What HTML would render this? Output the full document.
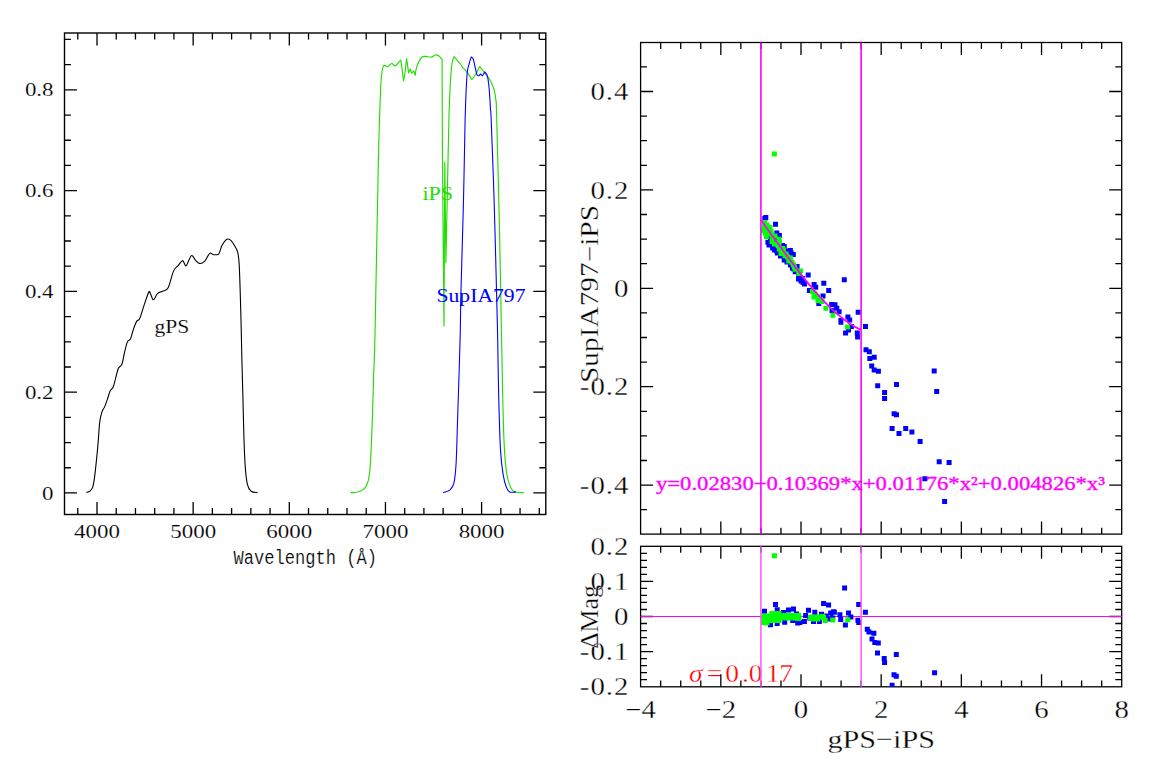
<!DOCTYPE html>
<html><head><meta charset="utf-8"><style>
html,body{margin:0;padding:0;background:#fff;width:1154px;height:766px;overflow:hidden}
svg{display:block}
</style></head><body>
<svg width="1154" height="766" viewBox="0 0 1154 766">
<rect width="1154" height="766" fill="#fff"/>
<rect x="64.5" y="33.0" width="481.30" height="481.50" fill="none" stroke="#000" stroke-width="1.4"/>
<path d="M77.77 514.5v-6.4M77.77 33.0v6.4M97.00 514.5v-12.5M97.00 33.0v12.5M116.23 514.5v-6.4M116.23 33.0v6.4M135.46 514.5v-6.4M135.46 33.0v6.4M154.69 514.5v-6.4M154.69 33.0v6.4M173.92 514.5v-6.4M173.92 33.0v6.4M193.15 514.5v-12.5M193.15 33.0v12.5M212.38 514.5v-6.4M212.38 33.0v6.4M231.61 514.5v-6.4M231.61 33.0v6.4M250.84 514.5v-6.4M250.84 33.0v6.4M270.07 514.5v-6.4M270.07 33.0v6.4M289.30 514.5v-12.5M289.30 33.0v12.5M308.53 514.5v-6.4M308.53 33.0v6.4M327.76 514.5v-6.4M327.76 33.0v6.4M346.99 514.5v-6.4M346.99 33.0v6.4M366.22 514.5v-6.4M366.22 33.0v6.4M385.45 514.5v-12.5M385.45 33.0v12.5M404.68 514.5v-6.4M404.68 33.0v6.4M423.91 514.5v-6.4M423.91 33.0v6.4M443.14 514.5v-6.4M443.14 33.0v6.4M462.37 514.5v-6.4M462.37 33.0v6.4M481.60 514.5v-12.5M481.60 33.0v12.5M500.83 514.5v-6.4M500.83 33.0v6.4M520.06 514.5v-6.4M520.06 33.0v6.4M539.29 514.5v-6.4M539.29 33.0v6.4M64.5 492.96h12.5M545.8 492.96h-12.5M64.5 467.76h6.4M545.8 467.76h-6.4M64.5 442.57h6.4M545.8 442.57h-6.4M64.5 417.38h6.4M545.8 417.38h-6.4M64.5 392.18h12.5M545.8 392.18h-12.5M64.5 366.99h6.4M545.8 366.99h-6.4M64.5 341.79h6.4M545.8 341.79h-6.4M64.5 316.59h6.4M545.8 316.59h-6.4M64.5 291.40h12.5M545.8 291.40h-12.5M64.5 266.20h6.4M545.8 266.20h-6.4M64.5 241.01h6.4M545.8 241.01h-6.4M64.5 215.81h6.4M545.8 215.81h-6.4M64.5 190.62h12.5M545.8 190.62h-12.5M64.5 165.43h6.4M545.8 165.43h-6.4M64.5 140.23h6.4M545.8 140.23h-6.4M64.5 115.04h6.4M545.8 115.04h-6.4M64.5 89.84h12.5M545.8 89.84h-12.5M64.5 64.64h6.4M545.8 64.64h-6.4M64.5 39.45h6.4M545.8 39.45h-6.4" stroke="#000" stroke-width="1.3" fill="none"/>
<path d="M86.30 492.40 C86.92 492.18 88.92 492.02 90.00 491.10 C91.08 490.18 92.03 489.27 92.80 486.90 C93.57 484.53 93.93 481.92 94.60 476.90 C95.27 471.88 96.18 462.88 96.80 456.80 C97.42 450.72 97.82 446.18 98.30 440.40 C98.78 434.62 99.10 426.82 99.70 422.10 C100.30 417.38 101.07 414.68 101.90 412.10 C102.73 409.52 103.78 408.73 104.70 406.60 C105.62 404.47 106.50 401.90 107.40 399.30 C108.30 396.70 109.13 393.05 110.10 391.00 C111.07 388.95 112.28 389.12 113.20 387.00 C114.12 384.88 114.73 381.43 115.60 378.30 C116.47 375.17 117.35 370.53 118.40 368.20 C119.45 365.87 120.88 366.92 121.90 364.30 C122.92 361.68 123.58 356.23 124.50 352.50 C125.42 348.77 126.40 344.18 127.40 341.90 C128.40 339.62 129.52 340.85 130.50 338.80 C131.48 336.75 132.28 332.50 133.30 329.60 C134.32 326.70 135.53 323.23 136.60 321.40 C137.67 319.57 138.43 321.35 139.70 318.60 C140.97 315.85 142.68 309.32 144.20 304.90 C145.72 300.48 147.73 293.92 148.80 292.10 C149.87 290.28 149.83 292.72 150.60 294.00 C151.37 295.28 152.27 299.87 153.40 299.80 C154.53 299.73 155.88 295.03 157.40 293.60 C158.92 292.17 160.73 292.12 162.50 291.20 C164.27 290.28 166.17 291.45 168.00 288.10 C169.83 284.75 171.82 274.85 173.50 271.10 C175.18 267.35 176.63 267.33 178.10 265.60 C179.57 263.87 181.30 261.15 182.30 260.70 C183.30 260.25 183.43 262.08 184.10 262.90 C184.77 263.72 185.08 266.82 186.30 265.60 C187.52 264.38 189.88 256.50 191.40 255.60 C192.92 254.70 194.07 258.90 195.40 260.20 C196.73 261.50 197.87 263.20 199.40 263.40 C200.93 263.60 202.88 263.07 204.60 261.40 C206.32 259.73 208.18 254.52 209.70 253.40 C211.22 252.28 212.18 254.63 213.70 254.70 C215.22 254.77 217.43 255.33 218.80 253.80 C220.17 252.27 220.62 247.88 221.90 245.50 C223.18 243.12 225.07 240.40 226.50 239.50 C227.93 238.60 228.98 238.78 230.50 240.10 C232.02 241.42 234.38 245.28 235.60 247.40 C236.82 249.52 237.18 249.60 237.80 252.80 C238.42 256.00 238.80 256.68 239.30 266.60 C239.80 276.52 240.37 296.73 240.80 312.30 C241.23 327.87 241.55 345.95 241.90 360.00 C242.25 374.05 242.58 384.40 242.90 396.60 C243.22 408.80 243.42 421.62 243.80 433.20 C244.18 444.78 244.60 457.57 245.20 466.10 C245.80 474.63 246.42 480.20 247.40 484.40 C248.38 488.60 249.42 489.93 251.10 491.30 C252.78 492.67 256.43 492.38 257.50 492.60" fill="none" stroke="#000" stroke-width="1.1" stroke-linejoin="round"/>
<path d="M350.40 492.70 C351.62 492.58 355.37 492.67 357.70 492.00 C360.03 491.33 362.65 490.55 364.40 488.70 C366.15 486.85 367.20 485.15 368.20 480.90 C369.20 476.65 369.73 472.82 370.40 463.20 C371.07 453.58 371.65 438.00 372.20 423.20 C372.75 408.40 373.22 389.93 373.70 374.40 C374.18 358.87 374.32 365.73 375.10 330.00 C375.88 294.27 377.52 199.20 378.40 160.00 C379.28 120.80 379.88 108.80 380.40 94.80 C380.92 80.80 381.05 80.70 381.50 76.00 C381.95 71.30 382.58 68.37 383.10 66.60 C383.62 64.83 383.82 65.40 384.60 65.40 C385.38 65.40 386.62 66.92 387.80 66.60 C388.98 66.28 390.48 63.62 391.70 63.50 C392.92 63.38 394.00 66.03 395.10 65.90 C396.20 65.77 397.35 63.67 398.30 62.70 C399.25 61.73 400.80 60.10 400.80 60.10 C400.80 60.10 402.40 71.30 402.40 71.30 C402.40 71.30 403.50 81.00 403.50 81.00 C403.50 81.00 405.00 72.90 405.00 72.90 C405.00 72.90 406.60 58.50 406.60 58.50 C406.60 58.50 408.60 72.90 408.60 72.90 C408.60 72.90 410.20 69.00 410.20 69.00 C410.20 69.00 411.80 73.20 411.80 73.20 C411.80 73.20 413.60 71.00 413.60 71.00 C413.60 71.00 415.20 75.30 415.20 75.30 C415.20 75.30 415.75 69.57 416.80 66.60 C417.85 63.63 419.98 59.20 421.50 57.50 C423.02 55.80 424.33 56.45 425.90 56.40 C427.47 56.35 429.28 57.43 430.90 57.20 C432.52 56.97 434.30 55.25 435.60 55.00 C436.90 54.75 437.62 54.93 438.70 55.70 C439.78 56.47 442.10 59.60 442.10 59.60 C442.10 59.60 442.18 115.60 442.50 160.00 C442.82 204.40 444.00 326.00 444.00 326.00 C444.00 326.00 444.80 162.00 444.80 162.00 C444.80 162.00 445.90 263.00 445.90 263.00 C445.90 263.00 447.20 200.00 447.20 200.00 C447.20 200.00 448.45 137.97 448.90 120.00 C449.35 102.03 449.55 99.97 449.90 92.20 C450.25 84.43 450.60 78.45 451.00 73.40 C451.40 68.35 451.78 64.68 452.30 61.90 C452.82 59.12 454.10 56.70 454.10 56.70 C454.10 56.70 456.07 59.10 457.20 60.40 C458.33 61.70 459.93 63.20 460.90 64.50 C461.87 65.80 462.22 67.23 463.00 68.20 C463.78 69.17 464.73 69.35 465.60 70.30 C466.47 71.25 467.15 72.37 468.20 73.90 C469.25 75.43 471.90 79.50 471.90 79.50 C471.90 79.50 474.20 76.65 475.50 74.50 C476.80 72.35 479.70 66.60 479.70 66.60 C479.70 66.60 482.52 70.15 483.90 71.90 C485.28 73.65 486.78 75.37 488.00 77.10 C489.22 78.83 490.15 80.13 491.20 82.30 C492.25 84.47 493.52 87.05 494.30 90.10 C495.08 93.15 495.52 96.45 495.90 100.60 C496.28 104.75 496.00 93.43 496.60 115.00 C497.20 136.57 498.70 194.17 499.50 230.00 C500.30 265.83 500.87 302.23 501.40 330.00 C501.93 357.77 502.23 377.37 502.70 396.60 C503.17 415.83 503.57 432.82 504.20 445.40 C504.83 457.98 505.57 465.43 506.50 472.10 C507.43 478.77 508.52 482.15 509.80 485.40 C511.08 488.65 511.80 490.38 514.20 491.60 C516.60 492.82 522.53 492.52 524.20 492.70" fill="none" stroke="#22dd00" stroke-width="1.15" stroke-linejoin="round"/>
<path d="M443.20 492.70 C444.32 492.22 448.12 491.38 449.90 489.80 C451.68 488.22 452.87 487.63 453.90 483.20 C454.93 478.77 455.48 473.93 456.10 463.20 C456.72 452.47 457.17 431.75 457.60 418.80 C458.03 405.85 458.27 399.47 458.70 385.50 C459.13 371.53 459.82 350.92 460.20 335.00 C460.58 319.08 460.45 312.50 461.00 290.00 C461.55 267.50 462.82 228.33 463.50 200.00 C464.18 171.67 464.63 138.83 465.10 120.00 C465.57 101.17 465.92 95.12 466.30 87.00 C466.68 78.88 466.92 75.22 467.40 71.30 C467.88 67.38 468.55 65.90 469.20 63.50 C469.85 61.10 471.30 56.90 471.30 56.90 C471.30 56.90 472.58 57.38 473.20 59.00 C473.82 60.62 474.35 63.93 475.00 66.60 C475.65 69.27 476.40 73.52 477.10 75.00 C477.80 76.48 479.20 75.50 479.20 75.50 C479.20 75.50 480.70 74.00 480.70 74.00 C480.70 74.00 482.30 76.00 482.30 76.00 C482.30 76.00 484.90 71.90 484.90 71.90 C484.90 71.90 486.80 73.92 487.50 76.60 C488.20 79.28 488.67 83.65 489.10 88.00 C489.53 92.35 489.87 99.03 490.10 102.70 C490.33 106.37 490.32 107.12 490.50 110.00 C490.68 112.88 490.60 105.00 491.20 120.00 C491.80 135.00 493.22 171.67 494.10 200.00 C494.98 228.33 495.90 266.67 496.50 290.00 C497.10 313.33 497.33 322.23 497.70 340.00 C498.07 357.77 498.23 378.28 498.70 396.60 C499.17 414.92 499.77 436.95 500.50 449.90 C501.23 462.85 502.10 468.02 503.10 474.30 C504.10 480.58 505.38 484.65 506.50 487.60 C507.62 490.55 508.22 491.27 509.80 492.00 C511.38 492.73 514.97 492.00 516.00 492.00" fill="none" stroke="#0000ff" stroke-width="1.1" stroke-linejoin="round"/>
<text transform="translate(97.0 538.2) scale(1.19 1)" font-family="Liberation Serif" font-size="19.3" fill="#000" text-anchor="middle" stroke="#fff" stroke-width="0.15" >4000</text>
<text transform="translate(193.2 538.2) scale(1.19 1)" font-family="Liberation Serif" font-size="19.3" fill="#000" text-anchor="middle" stroke="#fff" stroke-width="0.15" >5000</text>
<text transform="translate(289.3 538.2) scale(1.19 1)" font-family="Liberation Serif" font-size="19.3" fill="#000" text-anchor="middle" stroke="#fff" stroke-width="0.15" >6000</text>
<text transform="translate(385.4 538.2) scale(1.19 1)" font-family="Liberation Serif" font-size="19.3" fill="#000" text-anchor="middle" stroke="#fff" stroke-width="0.15" >7000</text>
<text transform="translate(481.6 538.2) scale(1.19 1)" font-family="Liberation Serif" font-size="19.3" fill="#000" text-anchor="middle" stroke="#fff" stroke-width="0.15" >8000</text>
<text transform="translate(53.6 499.6) scale(1.19 1)" font-family="Liberation Serif" font-size="19.3" fill="#000" text-anchor="end" stroke="#fff" stroke-width="0.15" >0</text>
<text transform="translate(53.6 398.8) scale(1.19 1)" font-family="Liberation Serif" font-size="19.3" fill="#000" text-anchor="end" stroke="#fff" stroke-width="0.15" >0.2</text>
<text transform="translate(53.6 298.0) scale(1.19 1)" font-family="Liberation Serif" font-size="19.3" fill="#000" text-anchor="end" stroke="#fff" stroke-width="0.15" >0.4</text>
<text transform="translate(53.6 197.2) scale(1.19 1)" font-family="Liberation Serif" font-size="19.3" fill="#000" text-anchor="end" stroke="#fff" stroke-width="0.15" >0.6</text>
<text transform="translate(53.6 96.4) scale(1.19 1)" font-family="Liberation Serif" font-size="19.3" fill="#000" text-anchor="end" stroke="#fff" stroke-width="0.15" >0.8</text>
<text transform="translate(154.5 332.5) scale(1.15 1)" font-family="Liberation Serif" font-size="18.8" fill="#000" text-anchor="start" stroke="#fff" stroke-width="0.15" >gPS</text>
<text transform="translate(422.5 199.6) scale(1.16 1)" font-family="Liberation Serif" font-size="19" fill="#22e000" text-anchor="start" >iPS</text>
<text transform="translate(436.5 302.3) scale(1.14 1)" font-family="Liberation Serif" font-size="19" fill="#0000ff" text-anchor="start" >SupIA797</text>
<text x="233.5" y="564.3" font-family="Liberation Mono" font-size="19.5" textLength="143.5" lengthAdjust="spacingAndGlyphs" stroke="#fff" stroke-width="0.2">Wavelength (Å)</text>
<text font-family="Liberation Serif" transform="translate(689.0 682.2) scale(1.1 1)" font-size="25" fill="#ff0000" stroke="#fff" stroke-width="0.3" font-style="italic">σ</text>
<text font-family="Liberation Serif" transform="translate(706.8 682.2) scale(1.1 1)" font-size="25" fill="#ff0000" stroke="#fff" stroke-width="0.3">=</text>
<text font-family="Liberation Serif" transform="translate(725.2 682.2) scale(1.1 1)" font-size="25" fill="#ff0000" stroke="#fff" stroke-width="0.3">0</text>
<text font-family="Liberation Serif" transform="translate(741.9 682.2) scale(1.1 1)" font-size="25" fill="#ff0000" stroke="#fff" stroke-width="0.3">.</text>
<text font-family="Liberation Serif" transform="translate(748.7 682.2) scale(1.1 1)" font-size="25" fill="#ff0000" stroke="#fff" stroke-width="0.3">0</text>
<text font-family="Liberation Serif" transform="translate(766.0 682.2) scale(1.1 1)" font-size="25" fill="#ff0000" stroke="#fff" stroke-width="0.3">1</text>
<text font-family="Liberation Serif" transform="translate(779.3 682.2) scale(1.1 1)" font-size="25" fill="#ff0000" stroke="#fff" stroke-width="0.3">7</text>
<rect x="640.6" y="42.5" width="481.10" height="491.60" fill="none" stroke="#000" stroke-width="1.3"/>
<rect x="640.6" y="546.3" width="481.10" height="140.50" fill="none" stroke="#000" stroke-width="1.3"/>
<path d="M660.68 534.1v-6.4M660.68 42.5v6.4M660.68 686.8v-6.4M660.68 546.3v6.4M680.73 534.1v-6.4M680.73 42.5v6.4M680.73 686.8v-6.4M680.73 546.3v6.4M700.77 534.1v-6.4M700.77 42.5v6.4M700.77 686.8v-6.4M700.77 546.3v6.4M720.82 534.1v-12.5M720.82 42.5v12.5M720.82 686.8v-12.5M720.82 546.3v12.5M740.87 534.1v-6.4M740.87 42.5v6.4M740.87 686.8v-6.4M740.87 546.3v6.4M760.91 534.1v-6.4M760.91 42.5v6.4M760.91 686.8v-6.4M760.91 546.3v6.4M780.96 534.1v-6.4M780.96 42.5v6.4M780.96 686.8v-6.4M780.96 546.3v6.4M801.00 534.1v-12.5M801.00 42.5v12.5M801.00 686.8v-12.5M801.00 546.3v12.5M821.04 534.1v-6.4M821.04 42.5v6.4M821.04 686.8v-6.4M821.04 546.3v6.4M841.09 534.1v-6.4M841.09 42.5v6.4M841.09 686.8v-6.4M841.09 546.3v6.4M861.13 534.1v-6.4M861.13 42.5v6.4M861.13 686.8v-6.4M861.13 546.3v6.4M881.18 534.1v-12.5M881.18 42.5v12.5M881.18 686.8v-12.5M881.18 546.3v12.5M901.23 534.1v-6.4M901.23 42.5v6.4M901.23 686.8v-6.4M901.23 546.3v6.4M921.27 534.1v-6.4M921.27 42.5v6.4M921.27 686.8v-6.4M921.27 546.3v6.4M941.32 534.1v-6.4M941.32 42.5v6.4M941.32 686.8v-6.4M941.32 546.3v6.4M961.36 534.1v-12.5M961.36 42.5v12.5M961.36 686.8v-12.5M961.36 546.3v12.5M981.40 534.1v-6.4M981.40 42.5v6.4M981.40 686.8v-6.4M981.40 546.3v6.4M1001.45 534.1v-6.4M1001.45 42.5v6.4M1001.45 686.8v-6.4M1001.45 546.3v6.4M1021.50 534.1v-6.4M1021.50 42.5v6.4M1021.50 686.8v-6.4M1021.50 546.3v6.4M1041.54 534.1v-12.5M1041.54 42.5v12.5M1041.54 686.8v-12.5M1041.54 546.3v12.5M1061.59 534.1v-6.4M1061.59 42.5v6.4M1061.59 686.8v-6.4M1061.59 546.3v6.4M1081.63 534.1v-6.4M1081.63 42.5v6.4M1081.63 686.8v-6.4M1081.63 546.3v6.4M1101.67 534.1v-6.4M1101.67 42.5v6.4M1101.67 686.8v-6.4M1101.67 546.3v6.4M640.6 509.70h6.4M1121.7 509.70h-6.4M640.6 485.10h12.5M1121.7 485.10h-12.5M640.6 460.50h6.4M1121.7 460.50h-6.4M640.6 435.90h6.4M1121.7 435.90h-6.4M640.6 411.30h6.4M1121.7 411.30h-6.4M640.6 386.70h12.5M1121.7 386.70h-12.5M640.6 362.10h6.4M1121.7 362.10h-6.4M640.6 337.50h6.4M1121.7 337.50h-6.4M640.6 312.90h6.4M1121.7 312.90h-6.4M640.6 288.30h12.5M1121.7 288.30h-12.5M640.6 263.70h6.4M1121.7 263.70h-6.4M640.6 239.10h6.4M1121.7 239.10h-6.4M640.6 214.50h6.4M1121.7 214.50h-6.4M640.6 189.90h12.5M1121.7 189.90h-12.5M640.6 165.30h6.4M1121.7 165.30h-6.4M640.6 140.70h6.4M1121.7 140.70h-6.4M640.6 116.10h6.4M1121.7 116.10h-6.4M640.6 91.50h12.5M1121.7 91.50h-12.5M640.6 66.90h6.4M1121.7 66.90h-6.4M640.6 679.68h6.4M1121.7 679.68h-6.4M640.6 672.66h6.4M1121.7 672.66h-6.4M640.6 665.64h6.4M1121.7 665.64h-6.4M640.6 658.62h6.4M1121.7 658.62h-6.4M640.6 651.60h12.5M1121.7 651.60h-12.5M640.6 644.58h6.4M1121.7 644.58h-6.4M640.6 637.56h6.4M1121.7 637.56h-6.4M640.6 630.54h6.4M1121.7 630.54h-6.4M640.6 623.52h6.4M1121.7 623.52h-6.4M640.6 616.50h12.5M1121.7 616.50h-12.5M640.6 609.48h6.4M1121.7 609.48h-6.4M640.6 602.46h6.4M1121.7 602.46h-6.4M640.6 595.44h6.4M1121.7 595.44h-6.4M640.6 588.42h6.4M1121.7 588.42h-6.4M640.6 581.40h12.5M1121.7 581.40h-12.5M640.6 574.38h6.4M1121.7 574.38h-6.4M640.6 567.36h6.4M1121.7 567.36h-6.4M640.6 560.34h6.4M1121.7 560.34h-6.4M640.6 553.32h6.4M1121.7 553.32h-6.4" stroke="#000" stroke-width="1.3" fill="none"/>
<path d="M640.6 616.50H1121.7" stroke="#ff00ff" stroke-width="1.1"/>
<defs><clipPath id="cu"><rect x="640.6" y="42.5" width="481.1" height="491.6"/></clipPath><clipPath id="cd"><rect x="640.6" y="546.3" width="481.1" height="140.5"/></clipPath></defs>
<path d="M762.3 216.0h5v5h-5zM763.3 214.9h5v5h-5zM773.0 221.8h5v5h-5zM774.3 230.4h5v5h-5zM776.9 233.0h5v5h-5zM765.4 239.8h5v5h-5zM770.1 245.5h5v5h-5zM780.0 242.9h5v5h-5zM787.9 248.1h5v5h-5zM774.9 250.5h5v5h-5zM790.8 251.9h5v5h-5zM781.8 257.5h5v5h-5zM789.9 265.6h5v5h-5zM794.6 264.1h5v5h-5zM792.7 269.3h5v5h-5zM796.2 274.1h5v5h-5zM805.7 272.5h5v5h-5zM799.9 276.1h5v5h-5zM770.6 244.3h5v5h-5zM785.8 248.5h5v5h-5zM768.9 240.5h5v5h-5zM774.4 248.7h5v5h-5zM781.7 256.9h5v5h-5zM791.4 266.4h5v5h-5zM774.4 232.6h5v5h-5zM781.7 244.1h5v5h-5zM788.6 250.5h5v5h-5zM766.5 242.5h5v5h-5zM772.0 247.5h5v5h-5zM778.0 253.5h5v5h-5zM784.5 259.5h5v5h-5zM788.0 262.5h5v5h-5zM796.0 276.5h5v5h-5zM800.5 280.0h5v5h-5zM778.5 246.5h5v5h-5zM783.5 254.5h5v5h-5zM772.5 237.5h5v5h-5zM768.0 235.5h5v5h-5zM798.5 278.5h5v5h-5zM802.0 281.5h5v5h-5zM811.6 282.1h5v5h-5zM813.2 284.7h5v5h-5zM806.9 287.9h5v5h-5zM821.3 280.8h5v5h-5zM826.2 288.1h5v5h-5zM820.5 293.6h5v5h-5zM816.3 300.9h5v5h-5zM829.2 302.1h5v5h-5zM832.5 302.2h5v5h-5zM834.3 305.7h5v5h-5zM836.6 309.3h5v5h-5zM829.5 308.1h5v5h-5zM855.7 309.8h5v5h-5zM845.4 314.5h5v5h-5zM847.2 317.5h5v5h-5zM838.4 318.1h5v5h-5zM838.4 319.8h5v5h-5zM848.9 323.9h5v5h-5zM843.1 330.4h5v5h-5zM846.0 327.5h5v5h-5zM854.8 330.4h5v5h-5zM855.1 334.5h5v5h-5zM863.0 323.9h5v5h-5zM841.8 277.3h5v5h-5zM863.5 347.3h5v5h-5zM866.8 349.2h5v5h-5zM867.3 355.9h5v5h-5zM871.7 354.7h5v5h-5zM869.2 363.4h5v5h-5zM871.7 367.6h5v5h-5zM875.9 368.8h5v5h-5zM875.2 383.2h5v5h-5zM894.0 382.0h5v5h-5zM882.1 389.9h5v5h-5zM882.1 395.9h5v5h-5zM891.6 411.2h5v5h-5zM894.0 412.2h5v5h-5zM889.6 426.1h5v5h-5zM896.5 431.1h5v5h-5zM903.2 425.9h5v5h-5zM909.4 429.6h5v5h-5zM917.6 439.0h5v5h-5zM931.7 368.6h5v5h-5zM934.2 388.9h5v5h-5zM936.7 459.3h5v5h-5zM946.6 460.1h5v5h-5zM922.3 476.2h5v5h-5zM942.1 499.0h5v5h-5z" fill="#0000ff" clip-path="url(#cu)"/>
<path d="M771.9 151.4h5v5h-5zM761.8 223.6h5v5h-5zM764.4 222.5h5v5h-5zM760.7 227.8h5v5h-5zM763.9 234.0h5v5h-5zM768.5 228.8h5v5h-5zM769.6 237.7h5v5h-5zM776.4 236.7h5v5h-5zM776.4 243.5h5v5h-5zM780.0 246.1h5v5h-5zM769.6 239.1h5v5h-5zM776.9 239.1h5v5h-5zM776.9 246.4h5v5h-5zM782.6 253.2h5v5h-5zM786.3 258.4h5v5h-5zM791.0 262.6h5v5h-5zM792.6 266.7h5v5h-5zM796.2 270.9h5v5h-5zM766.0 230.5h5v5h-5zM772.5 233.5h5v5h-5zM783.5 251.5h5v5h-5zM788.0 255.5h5v5h-5zM798.0 268.5h5v5h-5zM762.0 220.0h5v5h-5zM764.5 225.5h5v5h-5zM767.5 225.0h5v5h-5zM762.5 230.5h5v5h-5zM769.5 232.5h5v5h-5zM772.0 241.5h5v5h-5zM775.0 241.5h5v5h-5zM781.0 247.5h5v5h-5zM778.5 251.0h5v5h-5zM785.0 254.5h5v5h-5zM789.5 260.0h5v5h-5zM792.0 264.5h5v5h-5zM810.0 289.0h5v5h-5zM812.5 291.5h5v5h-5zM815.0 294.5h5v5h-5zM818.0 297.0h5v5h-5zM819.5 299.0h5v5h-5zM811.5 294.5h5v5h-5zM815.5 298.0h5v5h-5zM823.4 305.7h5v5h-5zM830.4 312.8h5v5h-5zM845.1 324.5h5v5h-5z" fill="#00ff00" clip-path="url(#cu)"/>
<path d="M773.0 602.0h5v5h-5zM762.0 608.7h5v5h-5zM774.7 607.2h5v5h-5zM781.0 610.1h5v5h-5zM786.0 607.6h5v5h-5zM791.0 606.6h5v5h-5zM793.9 611.4h5v5h-5zM768.0 622.2h5v5h-5zM774.7 621.0h5v5h-5zM782.2 619.7h5v5h-5zM790.2 618.0h5v5h-5zM795.2 620.5h5v5h-5zM821.1 601.1h5v5h-5zM826.1 602.6h5v5h-5zM806.0 607.8h5v5h-5zM812.3 609.7h5v5h-5zM819.0 611.8h5v5h-5zM803.1 613.0h5v5h-5zM801.9 618.9h5v5h-5zM797.3 620.1h5v5h-5zM807.3 615.5h5v5h-5zM816.9 618.9h5v5h-5zM823.6 613.5h5v5h-5zM828.2 610.5h5v5h-5zM831.1 609.3h5v5h-5zM830.2 615.5h5v5h-5zM826.9 616.4h5v5h-5zM811.0 618.9h5v5h-5zM842.1 585.5h5v5h-5zM856.2 602.0h5v5h-5zM862.9 609.8h5v5h-5zM831.9 609.8h5v5h-5zM837.4 612.2h5v5h-5zM838.2 616.9h5v5h-5zM846.0 610.6h5v5h-5zM848.4 614.5h5v5h-5zM842.9 622.4h5v5h-5zM855.4 617.7h5v5h-5zM856.2 620.0h5v5h-5zM864.8 626.7h5v5h-5zM866.4 629.4h5v5h-5zM871.4 630.7h5v5h-5zM869.5 636.5h5v5h-5zM872.3 639.9h5v5h-5zM875.8 640.4h5v5h-5zM875.0 650.6h5v5h-5zM893.8 652.1h5v5h-5zM881.7 656.1h5v5h-5zM882.1 660.0h5v5h-5zM891.5 672.2h5v5h-5zM893.8 673.8h5v5h-5zM889.6 682.7h5v5h-5zM932.1 670.3h5v5h-5z" fill="#0000ff" clip-path="url(#cd)"/>
<path d="M761.1 613.4H769.5V611H781.5V613H801V620.5H781.5V623H769.5V625.5H764V625.1H761.1Z" fill="#00ff00"/>
<path d="M772.0 553.2h5v5h-5zM810.0 614.5h5v5h-5zM813.5 615.0h5v5h-5zM817.5 614.5h5v5h-5zM821.0 615.0h5v5h-5zM810.5 616.5h5v5h-5zM815.0 616.5h5v5h-5zM808.0 615.0h5v5h-5zM796.0 616.0h5v5h-5zM810.2 615.1h5v5h-5zM816.5 614.3h5v5h-5zM820.2 613.9h5v5h-5zM822.7 618.0h5v5h-5zM830.2 617.6h5v5h-5zM845.2 617.3h5v5h-5zM796.5 615.1h5v5h-5z" fill="#00ff00" clip-path="url(#cd)"/>
<text font-family="Liberation Serif" x="656" y="489.6" font-size="19.5" fill="#ff00ff" stroke="#ff00ff" stroke-width="0.35" textLength="449" lengthAdjust="spacingAndGlyphs">y=0.02830−0.10369*x+0.01176*x²+0.004826*x³</text>
<path d="M760.91 42.5V534.1" stroke="#ff00ff" stroke-width="1.6"/>
<path d="M760.91 546.3V686.8" stroke="#ff55ff" stroke-width="1.5"/>
<path d="M861.13 42.5V534.1" stroke="#ff00ff" stroke-width="1.6"/>
<path d="M861.13 546.3V686.8" stroke="#ff55ff" stroke-width="1.5"/>
<path d="M760.9 219.9 L761.9 221.3 L762.9 222.7 L763.9 224.1 L764.9 225.5 L765.9 226.9 L766.9 228.3 L767.9 229.7 L768.9 231.1 L769.9 232.5 L770.9 233.9 L771.9 235.3 L772.9 236.6 L773.9 238.0 L774.9 239.4 L775.9 240.8 L776.9 242.2 L777.9 243.6 L779.0 245.0 L780.0 246.3 L781.0 247.7 L782.0 249.1 L783.0 250.5 L784.0 251.8 L785.0 253.2 L786.0 254.6 L787.0 255.9 L788.0 257.3 L789.0 258.6 L790.0 260.0 L791.0 261.3 L792.0 262.6 L793.0 264.0 L794.0 265.3 L795.0 266.6 L796.0 267.9 L797.0 269.2 L798.0 270.5 L799.0 271.8 L800.0 273.1 L801.0 274.4 L802.0 275.6 L803.0 276.9 L804.0 278.2 L805.0 279.4 L806.0 280.7 L807.0 281.9 L808.0 283.1 L809.0 284.3 L810.0 285.5 L811.0 286.7 L812.0 287.9 L813.0 289.1 L814.0 290.3 L815.0 291.4 L816.0 292.6 L817.0 293.7 L818.0 294.8 L819.0 295.9 L820.0 297.0 L821.0 298.1 L822.0 299.2 L823.0 300.3 L824.1 301.3 L825.1 302.4 L826.1 303.4 L827.1 304.4 L828.1 305.4 L829.1 306.4 L830.1 307.4 L831.1 308.4 L832.1 309.3 L833.1 310.3 L834.1 311.2 L835.1 312.1 L836.1 313.0 L837.1 313.9 L838.1 314.7 L839.1 315.6 L840.1 316.4 L841.1 317.2 L842.1 318.0 L843.1 318.8 L844.1 319.6 L845.1 320.3 L846.1 321.1 L847.1 321.8 L848.1 322.5 L849.1 323.2 L850.1 323.8 L851.1 324.5 L852.1 325.1 L853.1 325.7 L854.1 326.3 L855.1 326.9 L856.1 327.4 L857.1 327.9 L858.1 328.5 L859.1 328.9 L860.1 329.4 L861.1 329.9" fill="none" stroke="#ff00ff" stroke-width="1.8" stroke-linejoin="round"/>
<text transform="translate(629.5 100.1) scale(1.13 1)" font-family="Liberation Serif" font-size="25.5" fill="#000" text-anchor="end" stroke="#fff" stroke-width="0.3" letter-spacing="0.9">0.4</text>
<text transform="translate(629.5 198.5) scale(1.13 1)" font-family="Liberation Serif" font-size="25.5" fill="#000" text-anchor="end" stroke="#fff" stroke-width="0.3" letter-spacing="0.9">0.2</text>
<text transform="translate(629.5 296.9) scale(1.13 1)" font-family="Liberation Serif" font-size="25.5" fill="#000" text-anchor="end" stroke="#fff" stroke-width="0.3" letter-spacing="0.9">0</text>
<text transform="translate(629.5 395.3) scale(1.13 1)" font-family="Liberation Serif" font-size="25.5" fill="#000" text-anchor="end" stroke="#fff" stroke-width="0.3" letter-spacing="0.9">-0.2</text>
<text transform="translate(629.5 493.7) scale(1.13 1)" font-family="Liberation Serif" font-size="25.5" fill="#000" text-anchor="end" stroke="#fff" stroke-width="0.3" letter-spacing="0.9">-0.4</text>
<text transform="translate(629.5 554.9) scale(1.13 1)" font-family="Liberation Serif" font-size="25.5" fill="#000" text-anchor="end" stroke="#fff" stroke-width="0.3" letter-spacing="0.9">0.2</text>
<text transform="translate(629.5 590.0) scale(1.13 1)" font-family="Liberation Serif" font-size="25.5" fill="#000" text-anchor="end" stroke="#fff" stroke-width="0.3" letter-spacing="0.9">0.1</text>
<text transform="translate(629.5 625.1) scale(1.13 1)" font-family="Liberation Serif" font-size="25.5" fill="#000" text-anchor="end" stroke="#fff" stroke-width="0.3" letter-spacing="0.9">0</text>
<text transform="translate(629.5 660.2) scale(1.13 1)" font-family="Liberation Serif" font-size="25.5" fill="#000" text-anchor="end" stroke="#fff" stroke-width="0.3" letter-spacing="0.9">-0.1</text>
<text transform="translate(629.5 695.3) scale(1.13 1)" font-family="Liberation Serif" font-size="25.5" fill="#000" text-anchor="end" stroke="#fff" stroke-width="0.3" letter-spacing="0.9">-0.2</text>
<text transform="translate(640.6 718.3) scale(1.13 1)" font-family="Liberation Serif" font-size="25.5" fill="#000" text-anchor="middle" stroke="#fff" stroke-width="0.3" >−4</text>
<text transform="translate(720.8 718.3) scale(1.13 1)" font-family="Liberation Serif" font-size="25.5" fill="#000" text-anchor="middle" stroke="#fff" stroke-width="0.3" >−2</text>
<text transform="translate(801.0 718.3) scale(1.13 1)" font-family="Liberation Serif" font-size="25.5" fill="#000" text-anchor="middle" stroke="#fff" stroke-width="0.3" >0</text>
<text transform="translate(881.2 718.3) scale(1.13 1)" font-family="Liberation Serif" font-size="25.5" fill="#000" text-anchor="middle" stroke="#fff" stroke-width="0.3" >2</text>
<text transform="translate(961.4 718.3) scale(1.13 1)" font-family="Liberation Serif" font-size="25.5" fill="#000" text-anchor="middle" stroke="#fff" stroke-width="0.3" >4</text>
<text transform="translate(1041.5 718.3) scale(1.13 1)" font-family="Liberation Serif" font-size="25.5" fill="#000" text-anchor="middle" stroke="#fff" stroke-width="0.3" >6</text>
<text transform="translate(1121.7 718.3) scale(1.13 1)" font-family="Liberation Serif" font-size="25.5" fill="#000" text-anchor="middle" stroke="#fff" stroke-width="0.3" >8</text>
<text transform="translate(827.5 748.2) scale(1.16 1)" font-family="Liberation Serif" font-size="26" fill="#000" text-anchor="start" stroke="#fff" stroke-width="0.3" >gPS−iPS</text>
<text stroke="#fff" stroke-width="0.3" font-family="Liberation Serif" transform="translate(597.8 383) rotate(-90)" font-size="25" textLength="178" lengthAdjust="spacingAndGlyphs">SupIA797−iPS</text>
<text stroke="#fff" stroke-width="0.3" font-family="Liberation Serif" transform="translate(597.8 649) rotate(-90)" font-size="25" textLength="64" lengthAdjust="spacingAndGlyphs">ΔMag</text>
</svg>
</body></html>
